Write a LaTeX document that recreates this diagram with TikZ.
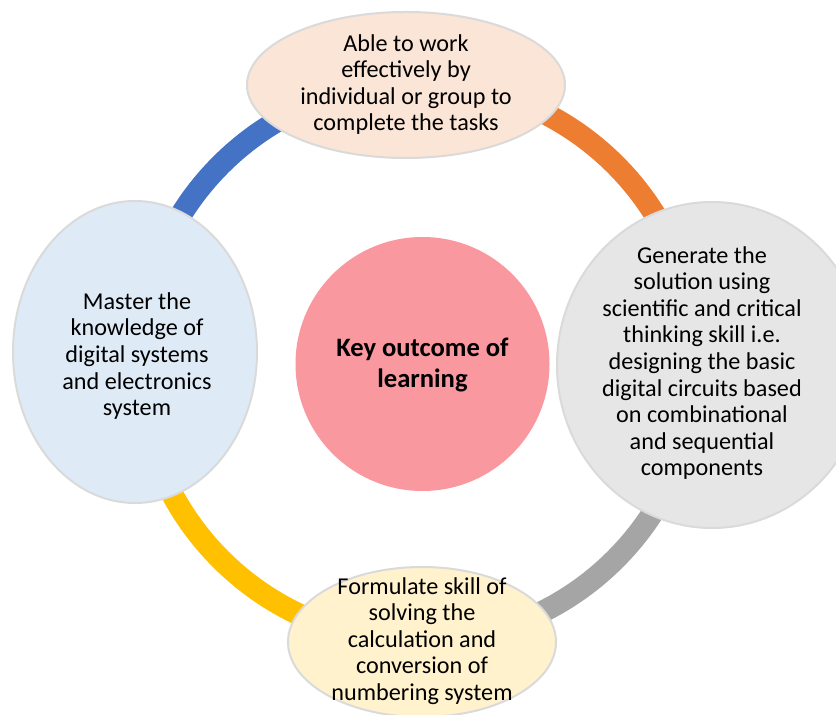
\documentclass[tikz,border=0pt]{standalone}
\usepackage{fontspec}
\setmainfont{Carlito}
\usetikzlibrary{shapes.geometric}

\definecolor{arcBlue}{HTML}{4472C4}
\definecolor{arcOrange}{HTML}{ED7D31}
\definecolor{arcGray}{HTML}{A5A5A5}
\definecolor{arcGold}{HTML}{FFC000}
\definecolor{fillPeach}{HTML}{FBE5D6}
\definecolor{fillSilver}{HTML}{E6E6E6}
\definecolor{fillCream}{HTML}{FFF2CC}
\definecolor{fillSky}{HTML}{DEEBF7}
\definecolor{fillRose}{HTML}{F9989F}
\definecolor{rimGray}{HTML}{DADADA}

\tikzset{
  ringarc/.style={line width=22pt, line cap=butt},
  bubble/.style={ellipse, draw=rimGray, line width=2pt, inner sep=0pt},
  bubbletext/.style={align=center, inner sep=0pt, text=black,
    font=\fontsize{24.2}{26.6}\selectfont},
  hubtext/.style={bubbletext, font=\fontsize{26.6}{31}\selectfont\bfseries}
}

\begin{document}
\begin{tikzpicture}[x=1pt, y=1pt]
  \clip (0,0) rectangle (836,715);
  \fill[white] (0,0) rectangle (836,715);

  % centre of the coloured ring
  \coordinate (ring) at (418,353);

  % four quarter arcs of the ring
  \draw[ringarc, arcOrange] ([shift={(0:279pt)}]ring) arc[start angle=0, end angle=90, radius=279pt];
  \draw[ringarc, arcBlue]   ([shift={(90:279pt)}]ring) arc[start angle=90, end angle=180, radius=279pt];
  \draw[ringarc, arcGold]   ([shift={(180:279pt)}]ring) arc[start angle=180, end angle=270, radius=279pt];
  \draw[ringarc, arcGray]   ([shift={(270:279pt)}]ring) arc[start angle=270, end angle=360, radius=279pt];

  % outcome bubbles around the ring
  \node[bubble, fill=fillPeach, minimum width=318pt, minimum height=146pt] (top) at (406,630) {};
  \node[bubble, fill=fillSilver, minimum width=310pt, minimum height=326pt] (right) at (712,350) {};
  \node[bubble, fill=fillCream, minimum width=268pt, minimum height=150pt] (bottom) at (422,73) {};
  \node[bubble, fill=fillSky, minimum width=244pt, minimum height=302pt] (left) at (135,363) {};

  % central hub
  \node[circle, fill=fillRose, inner sep=0pt, minimum size=254pt] (hub) at (422.5,351) {};

  % texts
  \node[bubbletext] (topText) at (406,630.5)
    {Able to work\\effectively by\\individual or group to\\complete the tasks};
  \node[bubbletext] (rightText) at (702,352)
    {Generate the\\solution using\\scientific and critical\\thinking skill i.e.\\designing the basic\\digital circuits based\\on combinational\\and sequential\\components};
  \node[bubbletext] (bottomText) at (422,74)
    {Formulate skill of\\solving the\\calculation and\\conversion of\\numbering system};
  \node[bubbletext] (leftText) at (137,359)
    {Master the\\knowledge of\\digital systems\\and electronics\\system};
  \node[hubtext] (hubText) at (422.5,349.5)
    {Key outcome of\\learning};
\end{tikzpicture}
\end{document}
